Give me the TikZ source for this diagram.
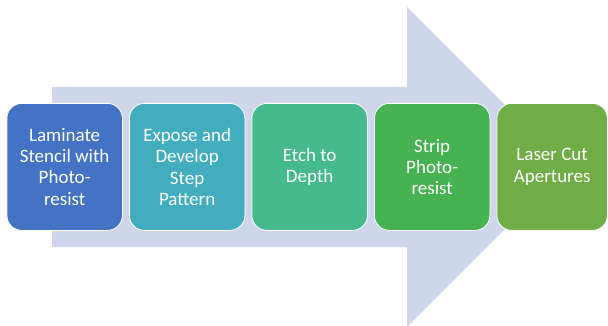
\documentclass[tikz,border=0pt]{standalone}
\usepackage{fontspec}
\setmainfont{Carlito}
\usetikzlibrary{positioning}

\definecolor{arrowfill}{HTML}{CFD5EA}
\definecolor{stepA}{HTML}{4472C4}
\definecolor{stepB}{HTML}{43ADC0}
\definecolor{stepC}{HTML}{44BA8D}
\definecolor{stepD}{HTML}{47B251}
\definecolor{stepE}{HTML}{70AD47}

\begin{document}
\begin{tikzpicture}[
        x=1pt, y=-1pt,
        node distance=6.2pt,
        stepbox/.style={rectangle, rounded corners=15pt, draw=white, line width=0.8pt,
            minimum width=115.5pt, minimum height=127pt, inner sep=0pt,
            text=white, align=center, font=\fontsize{19}{21.2}\selectfont}
    ]

        \useasboundingbox (0,0) rectangle (608,326);

        % Flecha de fondo
        \fill[arrowfill] (52,87) -- (407,87) -- (407,7) -- (567,167)
            -- (407,327) -- (407,247) -- (52,247) -- cycle;

        % Pasos
        \node[stepbox, fill=stepA, anchor=north west] (laminate) at (6.5,103)
            {Laminate\\Stencil with\\Photo-\\resist};
        \node[stepbox, fill=stepB, right=of laminate] (expose)
            {Expose and\\Develop\\Step\\Pattern};
        \node[stepbox, fill=stepC, right=of expose] (etch)
            {Etch to\\Depth};
        \node[stepbox, fill=stepD, right=of etch] (strip)
            {Strip\\Photo-\\resist};
        \node[stepbox, fill=stepE, right=of strip, minimum width=110.5pt] (laser)
            {Laser Cut\\Apertures};

    \end{tikzpicture}
\end{document}
